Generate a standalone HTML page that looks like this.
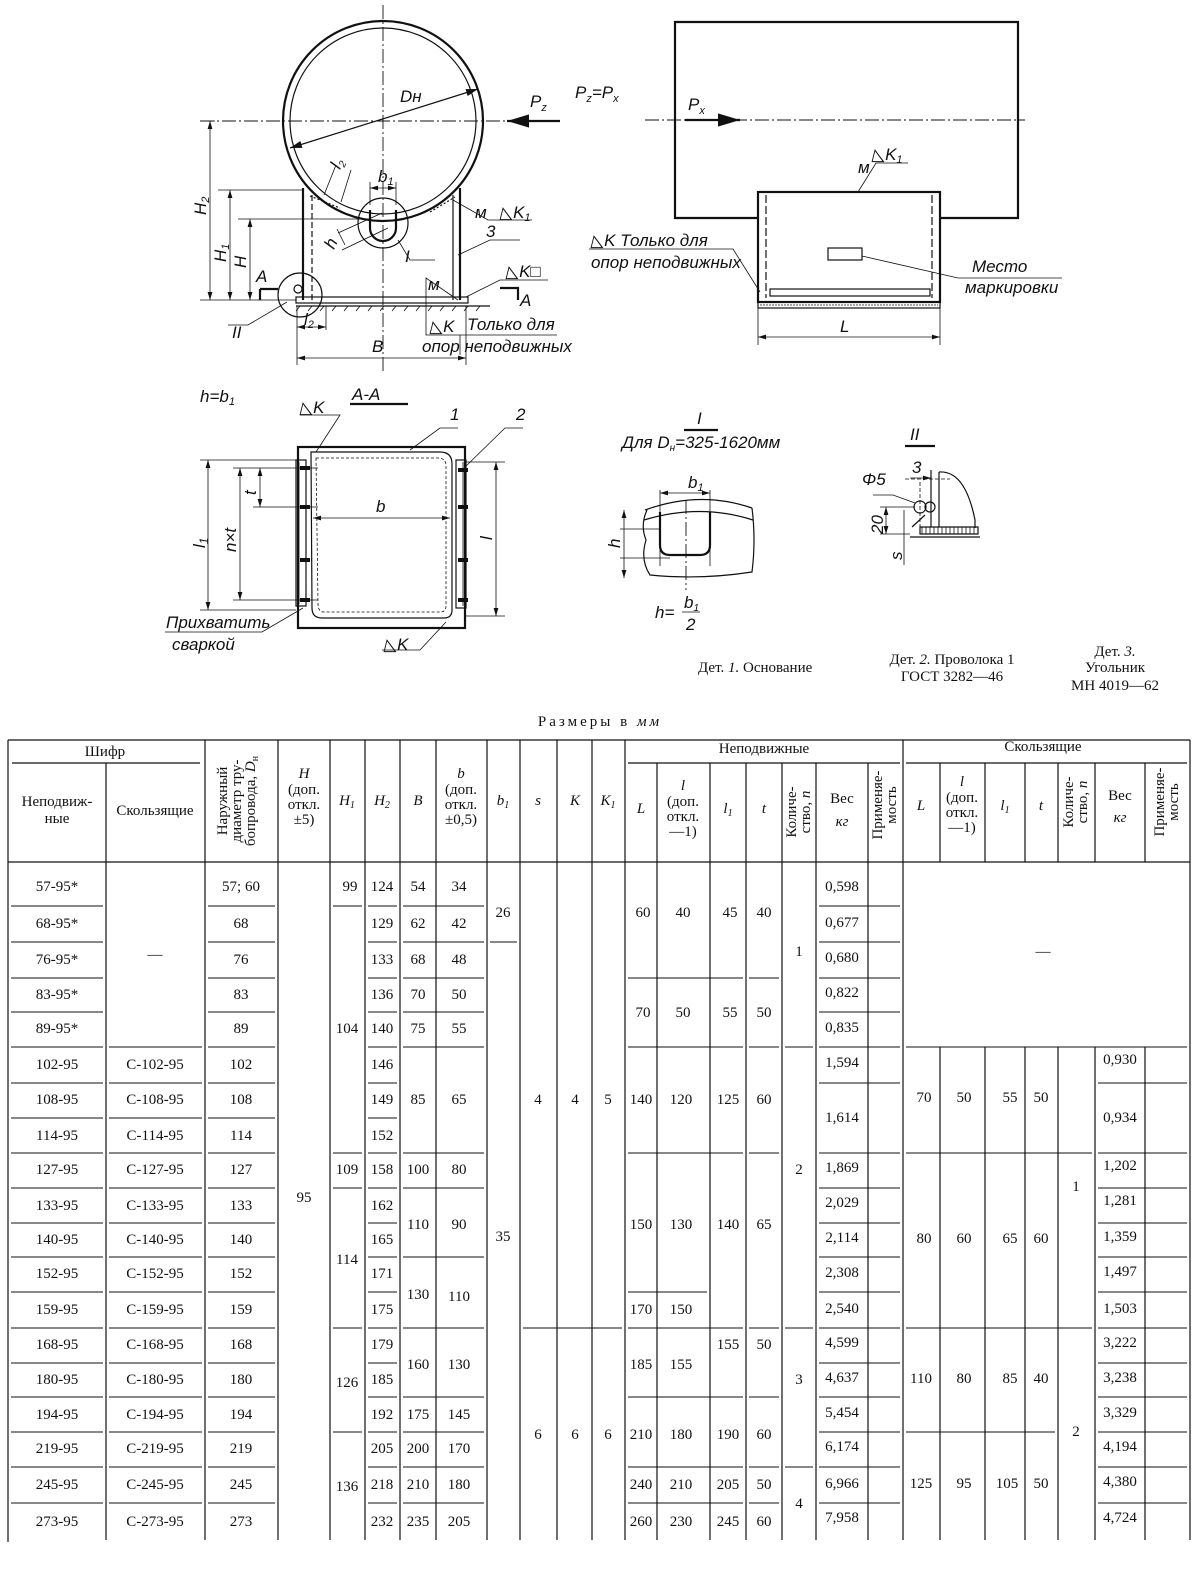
<!DOCTYPE html>
<html><head><meta charset="utf-8"><style>
html,body{margin:0;padding:0;background:#fff;width:1200px;height:1577px;overflow:hidden}
svg{display:block}
.d{font-family:"Liberation Sans",sans-serif;font-style:italic;font-size:17px;fill:#111}
.t{font-family:"Liberation Serif","Noto Serif CJK SC",serif;font-size:15px;fill:#111}
.ln{stroke:#111;fill:none;stroke-width:1.2}
.th{stroke:#111;fill:none;stroke-width:2.2}
.tn{stroke:#111;fill:none;stroke-width:0.8}
.dash{stroke:#111;fill:none;stroke-width:0.9;stroke-dasharray:14 3 2 3}
</style></head><body>
<svg width="1200" height="1577" viewBox="0 0 1200 1577" xmlns="http://www.w3.org/2000/svg">
<defs>
<marker id="ar" viewBox="0 0 10 6" refX="10" refY="3" markerWidth="10" markerHeight="6" orient="auto-start-reverse"><path d="M0,0 L10,3 L0,6 z" fill="#111"/></marker>
</defs>

<!-- ===== Top left: pipe cross-section ===== -->
<circle cx="383" cy="121" r="100" class="th"/>
<circle cx="383" cy="121" r="93" class="ln"/>
<line x1="383" y1="5" x2="383" y2="372" class="dash"/>
<line x1="200" y1="121" x2="560" y2="121" class="dash"/>
<line x1="560" y1="121" x2="507" y2="121" class="th" marker-end="url(#ar)"/>
<text x="530" y="107" class="d">P<tspan font-size="11" dy="4">z</tspan></text>
<line x1="290" y1="148" x2="478" y2="89" class="ln" marker-start="url(#ar)" marker-end="url(#ar)"/>
<text x="400" y="102" class="d">Dн</text>
<!-- legs -->
<line x1="303" y1="188" x2="303" y2="300" class="th"/>
<line x1="460" y1="188" x2="460" y2="300" class="th"/>
<line x1="312" y1="195" x2="312" y2="300" class="ln" stroke-dasharray="6 3"/>
<line x1="453" y1="195" x2="453" y2="300" class="ln"/>
<path d="M310,196 l30,12 M430,212 l25,-15" class="ln" stroke-dasharray="2 2"/>
<rect x="296" y="297" width="172" height="6" class="ln"/>
<path d="M296,306 H490" class="ln"/>
<path d="M300,306 l-4,5 M312,306 l-4,5 M324,306 l-4,5 M336,306 l-4,5 M348,306 l-4,5 M360,306 l-4,5 M372,306 l-4,5 M384,306 l-4,5 M396,306 l-4,5 M408,306 l-4,5 M420,306 l-4,5 M432,306 l-4,5 M444,306 l-4,5 M456,306 l-4,5 M468,306 l-4,5 M480,306 l-4,5" class="tn"/>
<!-- slot I -->
<circle cx="383" cy="223" r="25" class="ln"/>
<path d="M370,210 V228 a13,13 0 0 0 26,0 V210" class="th"/>
<text x="405" y="262" class="d" font-size="20">I</text>
<path d="M398,240 l12,20 h25" class="tn"/>
<!-- dims -->
<path d="M200,121 H215 M218,190 H303 M238,219 H370 M200,300 H296" class="tn"/>
<line x1="210" y1="121" x2="210" y2="300" class="tn" marker-start="url(#ar)" marker-end="url(#ar)"/>
<line x1="230" y1="190" x2="230" y2="300" class="tn" marker-start="url(#ar)" marker-end="url(#ar)"/>
<line x1="250" y1="219" x2="250" y2="300" class="tn" marker-start="url(#ar)" marker-end="url(#ar)"/>
<text transform="translate(206,215) rotate(-90)" class="d">H<tspan font-size="11" dy="3">2</tspan></text>
<text transform="translate(226,262) rotate(-90)" class="d">H<tspan font-size="11" dy="3">1</tspan></text>
<text transform="translate(246,268) rotate(-90)" class="d">H</text>
<line x1="370" y1="188" x2="396" y2="188" class="tn" marker-start="url(#ar)" marker-end="url(#ar)"/>
<path d="M370,182 V205 M396,182 V205" class="tn"/>
<text x="378" y="182" class="d">b<tspan font-size="11" dy="3">1</tspan></text>
<path d="M342,250 l46,-22 M338,233 l44,-20" class="tn"/>
<line x1="345" y1="245" x2="337" y2="229" class="tn"/>
<text transform="translate(334,250) rotate(-65)" class="d">h</text>
<path d="M336,165 l-12,30 M351,170 l-10,32" class="tn"/>
<text transform="translate(340,170) rotate(-65)" class="d" font-size="13">l<tspan font-size="10" dy="3">2</tspan></text>
<!-- circle II -->
<circle cx="300" cy="295" r="22" class="ln"/>
<circle cx="298" cy="289" r="4" class="ln"/>
<path d="M287,302 L248,325 H228" class="tn"/>
<text x="232" y="338" class="d" font-size="20">II</text>
<!-- section marks -->
<path d="M260,289 H278 M260,289 V300" class="th"/>
<text x="256" y="282" class="d" font-size="20">A</text>
<path d="M500,288 H518 V300" class="th"/>
<text x="520" y="306" class="d" font-size="20">A</text>
<!-- l2 & B -->
<path d="M297,306 V365 M326,306 V330 M466,306 V365" class="tn"/>
<line x1="297" y1="327" x2="326" y2="327" class="tn" marker-start="url(#ar)" marker-end="url(#ar)"/>
<text x="304" y="325" class="d">l<tspan font-size="11" dy="3">2</tspan></text>
<line x1="297" y1="358" x2="466" y2="358" class="tn" marker-start="url(#ar)" marker-end="url(#ar)"/>
<text x="372" y="352" class="d" font-size="18">B</text>
<!-- welds labels -->
<path d="M453,200 L488,220 H532" class="tn"/>
<text x="475" y="218" class="d" font-size="12">м</text>
<text x="500" y="218" class="d">◺K<tspan font-size="11" dy="3">1</tspan></text>
<path d="M458,255 L490,240 H520" class="tn"/>
<text x="486" y="237" class="d" font-size="18">3</text>
<path d="M466,297 L500,280 H548" class="tn"/>
<text x="506" y="277" class="d">◺K□</text>
<path d="M458,300 L426,278 V335 H557" class="tn"/>
<text x="428" y="290" class="d" font-size="12">м</text>
<text x="430" y="332" class="d">◺K</text>
<text x="467" y="330" class="d">Только для</text>
<text x="422" y="352" class="d">опор  неподвижных</text>
<path d="M460,335 V355" class="tn"/>

<!-- ===== Top right: side view ===== -->
<path d="M758,218 H675 V22 H1018 V218 H940" class="th"/>
<line x1="645" y1="120" x2="1025" y2="120" class="dash"/>
<line x1="685" y1="120" x2="740" y2="120" class="th" marker-end="url(#ar)"/>
<text x="575" y="98" class="d">P<tspan font-size="11" dy="4">z</tspan><tspan dy="-4">=P</tspan><tspan font-size="11" dy="4">x</tspan></text>
<text x="688" y="110" class="d">P<tspan font-size="11" dy="4">x</tspan></text>
<rect x="758" y="192" width="182" height="110" class="th"/>
<path d="M766,195 V298 M932,195 V298" class="ln" stroke-dasharray="8 3"/>
<rect x="770" y="289" width="160" height="7" class="ln"/>
<rect x="758" y="302" width="182" height="6" class="ln"/>
<path d="M760,305 H938" class="tn" stroke-dasharray="2 1"/>
<rect x="828" y="248" width="34" height="12" class="ln"/>
<path d="M862,256 L958,278 H1062" class="tn"/>
<text x="972" y="272" class="d">Место</text>
<text x="965" y="293" class="d">маркировки</text>
<path d="M858,192 L876,163 H908" class="tn"/>
<text x="858" y="173" class="d" font-size="12">м</text>
<text x="872" y="160" class="d">◺K<tspan font-size="11" dy="3">1</tspan></text>
<path d="M589,249 H733 L760,292" class="tn"/>
<text x="591" y="246" class="d">◺K Только для</text>
<text x="591" y="268" class="d">опор неподвижных</text>
<path d="M758,308 V345 M940,308 V345" class="tn"/>
<line x1="758" y1="337" x2="940" y2="337" class="tn" marker-start="url(#ar)" marker-end="url(#ar)"/>
<text x="840" y="332" class="d" font-size="18">L</text>

<!-- ===== A-A section ===== -->
<text x="200" y="402" class="d">h=b<tspan font-size="11" dy="3">1</tspan></text>
<text x="352" y="400" class="d" font-size="22">A-A</text>
<line x1="350" y1="404" x2="408" y2="404" class="th"/>
<rect x="298" y="447" width="167" height="181" class="th"/>
<path d="M311,452 H440 Q452,452 452,464 V610 Q452,618 444,618 H322 Q312,618 312,608 Z" class="ln" stroke-width="3"/>
<path d="M316,458 H438 Q446,458 446,466 V606 Q446,612 440,612 H324 Q318,612 318,604 Z" class="tn" stroke-dasharray="3 2"/>
<rect x="296" y="460" width="10" height="146" class="ln"/>
<rect x="456" y="460" width="10" height="148" class="ln"/>
<path d="M299,462 V604 M463,462 V606" class="tn"/>
<path d="M300,468 h10 M300,507 h10 M300,560 h10 M300,600 h10 M458,470 h10 M458,507 h10 M458,560 h10 M458,600 h10" stroke="#111" stroke-width="4"/>
<path d="M200,460 H296 M233,468 H318 M253,507 H318 M233,600 H318 M200,610 H296 M466,462 H505 M466,616 H505" class="tn"/>
<line x1="208" y1="460" x2="208" y2="610" class="tn" marker-start="url(#ar)" marker-end="url(#ar)"/>
<line x1="240" y1="468" x2="240" y2="600" class="tn" marker-start="url(#ar)" marker-end="url(#ar)"/>
<line x1="260" y1="468" x2="260" y2="507" class="tn" marker-start="url(#ar)" marker-end="url(#ar)"/>
<line x1="496" y1="462" x2="496" y2="616" class="tn" marker-start="url(#ar)" marker-end="url(#ar)"/>
<line x1="313" y1="518" x2="450" y2="518" class="tn" marker-start="url(#ar)" marker-end="url(#ar)"/>
<text x="376" y="512" class="d" font-size="18">b</text>
<text transform="translate(205,548) rotate(-90)" class="d" font-size="18">l<tspan font-size="12" dy="3">1</tspan></text>
<text transform="translate(236,552) rotate(-90)" class="d">n×t</text>
<text transform="translate(256,495) rotate(-90)" class="d">t</text>
<text transform="translate(492,540) rotate(-90)" class="d" font-size="18">l</text>
<path d="M300,415 H340 L316,452" class="tn"/>
<text x="300" y="413" class="d">◺K</text>
<path d="M410,450 L440,428 H458" class="tn"/>
<text x="450" y="420" class="d" font-size="18">1</text>
<path d="M462,470 L505,428 H523" class="tn"/>
<text x="516" y="420" class="d" font-size="18">2</text>
<path d="M303,608 L262,632 H165" class="tn"/>
<text x="166" y="628" class="d">Прихватить</text>
<text x="172" y="650" class="d">сваркой</text>
<path d="M446,622 L420,650 H382" class="tn"/>
<text x="384" y="650" class="d">◺K</text>

<!-- ===== Detail I ===== -->
<text x="697" y="424" class="d" font-size="24">I</text>
<line x1="684" y1="430" x2="718" y2="430" class="th"/>
<text x="622" y="448" class="d" font-size="14">Для D<tspan font-size="10" dy="3">н</tspan><tspan dy="-3">=325-1620мм</tspan></text>
<path d="M645,510 Q700,490 752,508 M644,520 Q700,503 753,520 M647,510 Q640,525 646,540 Q640,560 650,575 Q700,580 752,572 Q756,540 752,508" class="ln"/>
<path d="M660,490 V566 M710,490 V566" class="tn"/>
<line x1="660" y1="493" x2="710" y2="493" class="tn" marker-start="url(#ar)" marker-end="url(#ar)"/>
<text x="688" y="488" class="d">b<tspan font-size="11" dy="3">1</tspan></text>
<path d="M660,512 V545 Q660,555 670,555 H700 Q710,555 710,545 V512" class="th"/>
<line x1="686" y1="500" x2="686" y2="590" class="dash"/>
<path d="M620,529 H660 M620,558 H670" class="tn"/>
<line x1="624" y1="510" x2="624" y2="578" class="tn" marker-start="url(#ar)" marker-end="url(#ar)"/>
<text transform="translate(620,548) rotate(-90)" class="d">h</text>
<text x="655" y="618" class="d">h=</text>
<text x="684" y="608" class="d" font-size="14">b<tspan font-size="10" dy="3">1</tspan></text>
<line x1="682" y1="612" x2="700" y2="612" class="tn"/>
<text x="686" y="630" class="d" font-size="14">2</text>

<!-- ===== Detail II ===== -->
<text x="910" y="440" class="d" font-size="24">II</text>
<line x1="905" y1="446" x2="935" y2="446" class="th"/>
<path d="M931,470 V527 M939,472 V527" class="ln"/>
<path d="M939,472 Q965,470 975,520 V528" class="ln"/>
<path d="M905,479 H950 M920,482 V530" class="tn" stroke-dasharray="4 2"/>
<line x1="910" y1="478" x2="931" y2="478" class="tn" marker-end="url(#ar)"/>
<text x="912" y="473" class="d" font-size="14">3</text>
<circle cx="920" cy="507" r="6" class="ln"/>
<circle cx="930" cy="507" r="5" class="ln"/>
<path d="M873,495 H893 L915,503" class="tn"/>
<text x="862" y="485" class="d" font-size="14">Φ5</text>
<path d="M920,527 H978 V534 H920 Z" class="ln"/>
<path d="M922,527 v7 M926,527 v7 M930,527 v7 M934,527 v7 M938,527 v7 M942,527 v7 M946,527 v7 M950,527 v7 M954,527 v7 M958,527 v7 M962,527 v7 M966,527 v7 M970,527 v7 M974,527 v7" class="tn"/>
<path d="M910,537 H980" class="ln"/>
<path d="M912,527 L925,515" class="ln"/>
<path d="M880,507 H915 M880,534 H910" class="tn"/>
<line x1="886" y1="507" x2="886" y2="534" class="tn" marker-start="url(#ar)" marker-end="url(#ar)"/>
<text transform="translate(883,534) rotate(-90)" class="d" font-size="14">20</text>
<line x1="904" y1="510" x2="904" y2="565" class="tn"/>
<text transform="translate(902,560) rotate(-90)" class="d" font-size="14">s</text>

<!-- captions -->
<text x="698" y="672" class="t" font-size="15">Дет. <tspan font-style="italic">1.</tspan> Основание</text>
<text x="952" y="664" class="t" font-size="15" text-anchor="middle">Дет. <tspan font-style="italic">2.</tspan> Проволока 1</text>
<text x="952" y="681" class="t" font-size="15" text-anchor="middle">ГОСТ 3282—46</text>
<text x="1115" y="656" class="t" font-size="15" text-anchor="middle">Дет. <tspan font-style="italic">3.</tspan></text>
<text x="1115" y="672" class="t" font-size="15" text-anchor="middle">Угольник</text>
<text x="1115" y="690" class="t" font-size="15" text-anchor="middle">МН 4019—62</text>

<!-- ===== TABLE ===== -->
<text x="600" y="726" class="t" font-size="12" text-anchor="middle" letter-spacing="3">Размеры в <tspan font-style="italic">мм</tspan></text>
<g stroke="#111" stroke-width="1.2" fill="none">
<path d="M8,740 H1190 M8,862 H1190"/>
<path d="M12,763 H200 M628,763 H900 M906,763 H1187"/>
<path d="M8,740 V1542 M106,763 V1540 M205,740 V1540 M278,740 V1540 M330,740 V1540 M365,740 V1540 M400,740 V1540 M436,740 V1540 M487,740 V1540 M520,740 V1540 M557,740 V1540 M592,740 V1540 M625,740 V1540 M657,763 V1540 M710,763 V1540 M746,763 V1540 M782,763 V1540 M816,763 V1540 M868,763 V1540 M903,740 V1540 M1190,740 V1540"/>
<path d="M940,763 V862 M985,763 V862 M1025,763 V862 M1058,763 V862 M1095,763 V862 M1145,763 V862"/>
<path d="M940,1047 V1540 M985,1047 V1540 M1025,1047 V1540 M1058,1047 V1540 M1095,1047 V1540 M1145,1047 V1540"/>
</g>
<g stroke="#111" stroke-width="1" fill="none">
<path d="M11,906H103M11,942H103M11,978H103M11,1012H103M11,1047H103M11,1083H103M11,1118H103M11,1153H103M11,1188H103M11,1223H103M11,1257H103M11,1292H103M11,1328H103M11,1363H103M11,1397H103M11,1432H103M11,1467H103M11,1503H103"/>
<path d="M109,1047H202M109,1083H202M109,1118H202M109,1153H202M109,1188H202M109,1223H202M109,1257H202M109,1292H202M109,1328H202M109,1363H202M109,1397H202M109,1432H202M109,1467H202M109,1503H202"/>
<path d="M208,906H275M208,942H275M208,978H275M208,1012H275M208,1047H275M208,1083H275M208,1118H275M208,1153H275M208,1188H275M208,1223H275M208,1257H275M208,1292H275M208,1328H275M208,1363H275M208,1397H275M208,1432H275M208,1467H275M208,1503H275"/>
<path d="M333,906H362M333,1153H362M333,1188H362M333,1328H362M333,1432H362"/>
<path d="M368,906H397M368,942H397M368,978H397M368,1012H397M368,1047H397M368,1083H397M368,1118H397M368,1153H397M368,1188H397M368,1223H397M368,1257H397M368,1292H397M368,1328H397M368,1363H397M368,1397H397M368,1432H397M368,1467H397M368,1503H397"/>
<path d="M403,906H484M403,942H484M403,978H484M403,1012H484M403,1047H484M403,1153H484M403,1188H484M403,1257H484M403,1328H484M403,1397H484M403,1432H484M403,1467H484M403,1503H484"/>
<path d="M490,942H517"/>
<path d="M523,1328H622"/>
<path d="M628,978H743M628,1047H743M628,1153H743M628,1328H743M628,1397H743M628,1467H743M628,1503H743M628,1292H707"/>
<path d="M749,978H779M749,1047H779M749,1153H779M749,1328H779M749,1397H779M749,1467H779M749,1503H779"/>
<path d="M785,1047H813M785,1328H813M785,1467H813"/>
<path d="M819,906H900M819,942H900M819,978H900M819,1012H900M819,1047H900M819,1083H900M819,1153H900M819,1188H900M819,1223H900M819,1257H900M819,1292H900M819,1328H900M819,1363H900M819,1397H900M819,1432H900M819,1467H900M819,1503H900"/>
<path d="M906,1047H1187"/>
<path d="M906,1153H1092M906,1328H1092M906,1432H1055"/>
<path d="M1098,1083H1187M1098,1153H1187M1098,1188H1187M1098,1223H1187M1098,1257H1187M1098,1292H1187M1098,1328H1187M1098,1363H1187M1098,1397H1187M1098,1432H1187M1098,1467H1187M1098,1503H1187"/>
</g>

<g class="t" text-anchor="middle">
<text x="105" y="756">Шифр</text>
<text x="57" y="806">Неподвиж-</text><text x="57" y="823">ные</text>
<text x="155" y="815">Скользящие</text>
<g transform="translate(241,801) rotate(-90)"><text x="0" y="-14">Наружный</text><text x="0" y="0">диаметр тру-</text><text x="0" y="14">бопровода, <tspan font-style="italic">D</tspan><tspan font-size="10" dy="3">н</tspan></text></g>
<text x="304" y="778" font-style="italic">H</text><text x="304" y="794">(доп.</text><text x="304" y="809">откл.</text><text x="304" y="824">±5)</text>
<text x="347" y="805" font-style="italic">H<tspan font-size="10" dy="3">1</tspan></text>
<text x="382" y="805" font-style="italic">H<tspan font-size="10" dy="3">2</tspan></text>
<text x="418" y="805" font-style="italic">B</text>
<text x="461" y="778" font-style="italic">b</text><text x="461" y="794">(доп.</text><text x="461" y="809">откл.</text><text x="461" y="824">±0,5)</text>
<text x="503" y="805" font-style="italic">b<tspan font-size="10" dy="3">1</tspan></text>
<text x="538" y="805" font-style="italic">s</text>
<text x="575" y="805" font-style="italic">K</text>
<text x="608" y="805" font-style="italic">K<tspan font-size="10" dy="3">1</tspan></text>
<text x="764" y="753">Неподвижные</text>
<text x="641" y="813" font-style="italic">L</text>
<text x="683" y="790" font-style="italic">l</text><text x="683" y="806">(доп.</text><text x="683" y="821">откл.</text><text x="683" y="836">—1)</text>
<text x="728" y="813" font-style="italic">l<tspan font-size="10" dy="3">1</tspan></text>
<text x="764" y="813" font-style="italic">t</text>
<g transform="translate(799,812) rotate(-90)"><text y="-3">Количе-</text><text y="11">ство, <tspan font-style="italic">n</tspan></text></g>
<text x="842" y="803">Вес</text><text x="842" y="826" font-style="italic">кг</text>
<g transform="translate(885,805) rotate(-90)"><text y="-3">Применяе-</text><text y="11">мость</text></g>
<text x="1043" y="751">Скользящие</text>
<text x="921" y="810" font-style="italic">L</text>
<text x="962" y="786" font-style="italic">l</text><text x="962" y="802">(доп.</text><text x="962" y="817">откл.</text><text x="962" y="832">—1)</text>
<text x="1005" y="810" font-style="italic">l<tspan font-size="10" dy="3">1</tspan></text>
<text x="1041" y="810" font-style="italic">t</text>
<g transform="translate(1076,802) rotate(-90)"><text y="-3">Количе-</text><text y="11">ство, <tspan font-style="italic">n</tspan></text></g>
<text x="1120" y="800">Вес</text><text x="1120" y="822" font-style="italic">кг</text>
<g transform="translate(1167,802) rotate(-90)"><text y="-3">Применяе-</text><text y="11">мость</text></g>
</g>

<g class="t" text-anchor="middle" dominant-baseline="central">
<text x="57" y="887">57-95*</text><text x="57" y="924">68-95*</text><text x="57" y="960">76-95*</text><text x="57" y="995">83-95*</text><text x="57" y="1029">89-95*</text><text x="57" y="1065">102-95</text><text x="57" y="1100">108-95</text><text x="57" y="1136">114-95</text><text x="57" y="1170">127-95</text><text x="57" y="1206">133-95</text><text x="57" y="1240">140-95</text><text x="57" y="1274">152-95</text><text x="57" y="1310">159-95</text><text x="57" y="1345">168-95</text><text x="57" y="1380">180-95</text><text x="57" y="1415">194-95</text><text x="57" y="1449">219-95</text><text x="57" y="1485">245-95</text><text x="57" y="1522">273-95</text>
<text x="155" y="955">—</text>
<text x="155" y="1065">С-102-95</text><text x="155" y="1100">С-108-95</text><text x="155" y="1136">С-114-95</text><text x="155" y="1170">С-127-95</text><text x="155" y="1206">С-133-95</text><text x="155" y="1240">С-140-95</text><text x="155" y="1274">С-152-95</text><text x="155" y="1310">С-159-95</text><text x="155" y="1345">С-168-95</text><text x="155" y="1380">С-180-95</text><text x="155" y="1415">С-194-95</text><text x="155" y="1449">С-219-95</text><text x="155" y="1485">С-245-95</text><text x="155" y="1522">С-273-95</text>
<text x="241" y="887">57; 60</text><text x="241" y="924">68</text><text x="241" y="960">76</text><text x="241" y="995">83</text><text x="241" y="1029">89</text><text x="241" y="1065">102</text><text x="241" y="1100">108</text><text x="241" y="1136">114</text><text x="241" y="1170">127</text><text x="241" y="1206">133</text><text x="241" y="1240">140</text><text x="241" y="1274">152</text><text x="241" y="1310">159</text><text x="241" y="1345">168</text><text x="241" y="1380">180</text><text x="241" y="1415">194</text><text x="241" y="1449">219</text><text x="241" y="1485">245</text><text x="241" y="1522">273</text>
<text x="304" y="1198">95</text>
<text x="350" y="887">99</text><text x="347" y="1029">104</text><text x="347" y="1170">109</text><text x="347" y="1260">114</text><text x="347" y="1383">126</text><text x="347" y="1487">136</text>
<text x="382" y="887">124</text><text x="382" y="924">129</text><text x="382" y="960">133</text><text x="382" y="995">136</text><text x="382" y="1029">140</text><text x="382" y="1065">146</text><text x="382" y="1100">149</text><text x="382" y="1136">152</text><text x="382" y="1170">158</text><text x="382" y="1206">162</text><text x="382" y="1240">165</text><text x="382" y="1274">171</text><text x="382" y="1310">175</text><text x="382" y="1345">179</text><text x="382" y="1380">185</text><text x="382" y="1415">192</text><text x="382" y="1449">205</text><text x="382" y="1485">218</text><text x="382" y="1522">232</text>
<text x="418" y="887">54</text><text x="418" y="924">62</text><text x="418" y="960">68</text><text x="418" y="995">70</text><text x="418" y="1029">75</text><text x="418" y="1100">85</text><text x="418" y="1170">100</text><text x="418" y="1225">110</text><text x="418" y="1295">130</text><text x="418" y="1365">160</text><text x="418" y="1415">175</text><text x="418" y="1449">200</text><text x="418" y="1485">210</text><text x="418" y="1522">235</text>
<text x="459" y="887">34</text><text x="459" y="924">42</text><text x="459" y="960">48</text><text x="459" y="995">50</text><text x="459" y="1029">55</text><text x="459" y="1100">65</text><text x="459" y="1170">80</text><text x="459" y="1225">90</text><text x="459" y="1297">110</text><text x="459" y="1365">130</text><text x="459" y="1415">145</text><text x="459" y="1449">170</text><text x="459" y="1485">180</text><text x="459" y="1522">205</text>
<text x="503" y="913">26</text><text x="503" y="1237">35</text>
<text x="538" y="1100">4</text><text x="538" y="1435">6</text>
<text x="575" y="1100">4</text><text x="575" y="1435">6</text>
<text x="608" y="1100">5</text><text x="608" y="1435">6</text>
<text x="643" y="913">60</text><text x="643" y="1013">70</text><text x="641" y="1100">140</text><text x="641" y="1225">150</text><text x="641" y="1310">170</text><text x="641" y="1365">185</text><text x="641" y="1435">210</text><text x="641" y="1485">240</text><text x="641" y="1522">260</text>
<text x="683" y="913">40</text><text x="683" y="1013">50</text><text x="681" y="1100">120</text><text x="681" y="1225">130</text><text x="681" y="1310">150</text><text x="681" y="1365">155</text><text x="681" y="1435">180</text><text x="681" y="1485">210</text><text x="681" y="1522">230</text>
<text x="730" y="913">45</text><text x="730" y="1013">55</text><text x="728" y="1100">125</text><text x="728" y="1225">140</text><text x="728" y="1345">155</text><text x="728" y="1435">190</text><text x="728" y="1485">205</text><text x="728" y="1522">245</text>
<text x="764" y="913">40</text><text x="764" y="1013">50</text><text x="764" y="1100">60</text><text x="764" y="1225">65</text><text x="764" y="1345">50</text><text x="764" y="1435">60</text><text x="764" y="1485">50</text><text x="764" y="1522">60</text>
<text x="799" y="952">1</text><text x="799" y="1170">2</text><text x="799" y="1380">3</text><text x="799" y="1504">4</text>
<text x="842" y="887">0,598</text><text x="842" y="923">0,677</text><text x="842" y="958">0,680</text><text x="842" y="993">0,822</text><text x="842" y="1028">0,835</text><text x="842" y="1063">1,594</text><text x="842" y="1118">1,614</text><text x="842" y="1168">1,869</text><text x="842" y="1203">2,029</text><text x="842" y="1238">2,114</text><text x="842" y="1273">2,308</text><text x="842" y="1309">2,540</text><text x="842" y="1343">4,599</text><text x="842" y="1378">4,637</text><text x="842" y="1413">5,454</text><text x="842" y="1447">6,174</text><text x="842" y="1484">6,966</text><text x="842" y="1518">7,958</text>
<text x="1043" y="952">—</text>
<text x="924" y="1098">70</text><text x="924" y="1239">80</text><text x="921" y="1379">110</text><text x="921" y="1484">125</text>
<text x="964" y="1098">50</text><text x="964" y="1239">60</text><text x="964" y="1379">80</text><text x="964" y="1484">95</text>
<text x="1010" y="1098">55</text><text x="1010" y="1239">65</text><text x="1010" y="1379">85</text><text x="1007" y="1484">105</text>
<text x="1041" y="1098">50</text><text x="1041" y="1239">60</text><text x="1041" y="1379">40</text><text x="1041" y="1484">50</text>
<text x="1076" y="1187">1</text><text x="1076" y="1432">2</text>
<text x="1120" y="1060">0,930</text><text x="1120" y="1118">0,934</text><text x="1120" y="1166">1,202</text><text x="1120" y="1201">1,281</text><text x="1120" y="1237">1,359</text><text x="1120" y="1272">1,497</text><text x="1120" y="1309">1,503</text><text x="1120" y="1343">3,222</text><text x="1120" y="1378">3,238</text><text x="1120" y="1413">3,329</text><text x="1120" y="1447">4,194</text><text x="1120" y="1482">4,380</text><text x="1120" y="1518">4,724</text>
</g>
</svg>
</body></html>
